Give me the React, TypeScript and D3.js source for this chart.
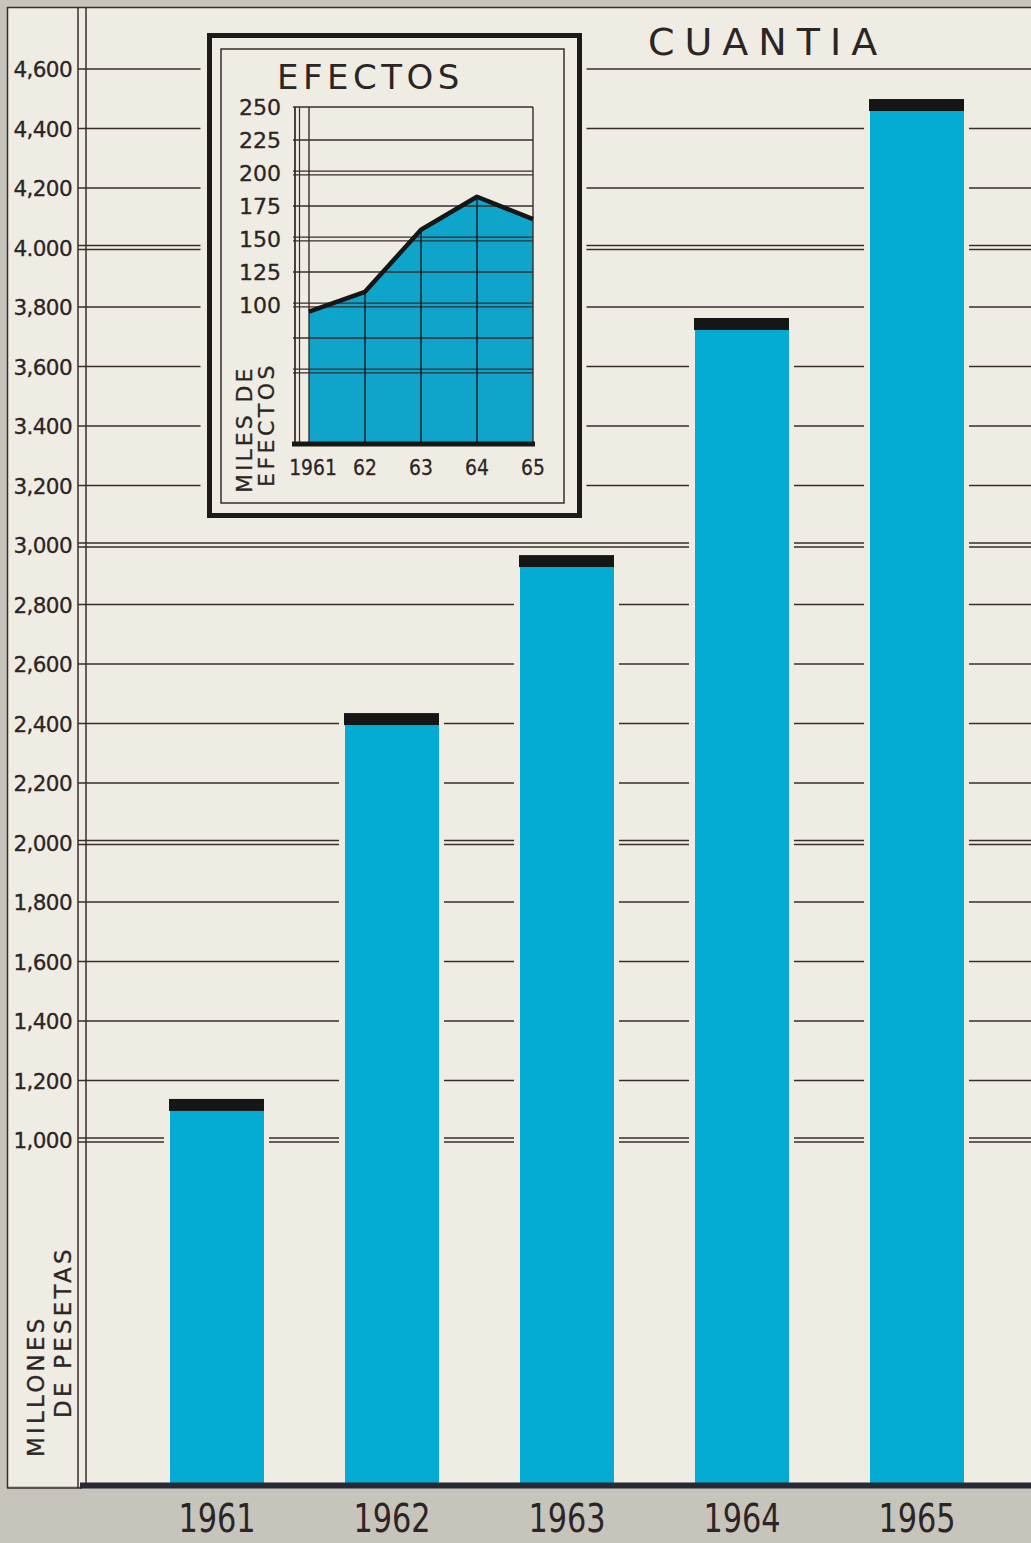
import React from "react";
import * as d3 from "d3";

// ---------- data ----------
const YEARS = ["1961", "1962", "1963", "1964", "1965"];
const CUANTIA = [1138, 2435, 2966, 3763, 4499]; // millones de pesetas
const Y_TICKS = [1000, 1200, 1400, 1600, 1800, 2000, 2200, 2400, 2600, 2800, 3000, 3200, 3400, 3600, 3800, 4000, 4200, 4400, 4600];
const Y_TICK_LABELS = ["1,000", "1,200", "1,400", "1,600", "1,800", "2,000", "2,200", "2,400", "2,600", "2,800", "3,000", "3,200", "3.400", "3,600", "3,800", "4.000", "4,200", "4,400", "4,600"];

const INSET_YEARS = ["1961", "62", "63", "64", "65"];
const EFECTOS = [95, 110, 157, 182, 165]; // miles de efectos
const INSET_TICKS = [100, 125, 150, 175, 200, 225, 250];
const INSET_GRID = [50, 75, 100, 125, 150, 175, 200, 225];

// ---------- style ----------
const W = 1031;
const H = 1543;
const PAPER = "#efece3";
const GRAY = "#c7c4bb";
const INK = "#3a2c2b";
const TEXT = "#2b2526";
const BLUE = "#03abd2";
const INSET_BLUE = "#0fa4ca";
const CAP = "#161616";
const FONT = "'DejaVu Sans', sans-serif";

export default function App() {
  // main scales
  const y = d3.scaleLinear().domain([0, 1000, 4600]).range([1483, 1140, 69]);
  const x = d3
    .scaleBand<string>()
    .domain(YEARS)
    .range([129.5, 1004.5])
    .paddingInner(0.463)
    .paddingOuter(0.2315);
  const bw = x.bandwidth();
  const capH = 12;

  // inset scales
  const ix = d3.scalePoint<string>().domain(INSET_YEARS).range([309, 533]);
  const iy = d3.scaleLinear().domain([0, 50, 250]).range([444, 371, 107]);
  const insetPts = INSET_YEARS.map((yr, i) => [ix(yr) as number, iy(EFECTOS[i])] as [number, number]);
  const areaPath = d3
    .area<[number, number]>()
    .x((d) => d[0])
    .y0(iy(0))
    .y1((d) => d[1])(insetPts) as string;
  const linePath = d3.line<[number, number]>().x((d) => d[0]).y((d) => d[1])(insetPts) as string;

  // inset box (exclusion for main gridlines)
  const insetBox = { x0: 209.5, x1: 579.5, y0: 35.5, y1: 515.5 };

  // compute gridline segments with gaps around bars & inset
  const gridSegments = (yy: number) => {
    const excl: [number, number][] = [];
    if (yy > insetBox.y0 - 4 && yy < insetBox.y1 + 4) excl.push([insetBox.x0 - 9, insetBox.x1 + 7]);
    YEARS.forEach((yr, i) => {
      const top = y(CUANTIA[i]);
      if (top < yy + 3) {
        const bx = x(yr) as number;
        excl.push([bx - 6, bx + bw + 5]);
      }
    });
    excl.sort((a, b) => a[0] - b[0]);
    const segs: [number, number][] = [];
    let cur = 78;
    excl.forEach(([a, b]) => {
      if (a > cur) segs.push([cur, a]);
      cur = Math.max(cur, b);
    });
    if (cur < W) segs.push([cur, W]);
    return segs;
  };

  return (
    <div style={{ position: "absolute", left: 0, top: 0, width: W, height: H }}>
      <svg width={W} height={H} viewBox={`0 0 ${W} ${H}`} style={{ display: "block" }}>
        <rect x={0} y={0} width={W} height={H} fill={GRAY} />
        <rect x={7} y={7} width={W - 7} height={1479} fill={PAPER} />
        {/* frame */}
        <line x1={7} x2={W} y1={7.5} y2={7.5} stroke={INK} strokeWidth={1.5} />
        <line x1={7.5} x2={7.5} y1={7} y2={1488} stroke={INK} strokeWidth={1.5} />
        <line x1={7} x2={82} y1={1488} y2={1488} stroke={INK} strokeWidth={1.5} />
        <line x1={78} x2={78} y1={7} y2={1488} stroke={INK} strokeWidth={1.5} />
        <line x1={86} x2={86} y1={7} y2={1486} stroke={INK} strokeWidth={1.5} />

        {/* gridlines */}
        {Y_TICKS.map((v) => {
          const yy = y(v);
          const dbl = v % 1000 === 0;
          const segs = gridSegments(yy);
          return (
            <g key={v}>
              {segs.map(([a, b], k) =>
                dbl ? (
                  <g key={k}>
                    <line x1={a} x2={b} y1={yy - 2} y2={yy - 2} stroke={INK} strokeWidth={1.3} />
                    <line x1={a} x2={b} y1={yy + 2} y2={yy + 2} stroke={INK} strokeWidth={1.3} />
                  </g>
                ) : (
                  <line key={k} x1={a} x2={b} y1={yy} y2={yy} stroke={INK} strokeWidth={1.4} />
                )
              )}
            </g>
          );
        })}

        {/* y tick labels */}
        {Y_TICKS.map((v, i) => (
          <text
            key={v}
            x={72}
            y={y(v) + 8}
            textAnchor="end"
            fontFamily={FONT}
            fontSize={21.5}
            fill={TEXT}
            letterSpacing={-0.6}
            stroke={TEXT}
            strokeWidth={0.3}
          >
            {Y_TICK_LABELS[i]}
          </text>
        ))}

        {/* axis title */}
        <text
          transform="translate(44,1457) rotate(-90)"
          fontFamily={FONT}
          fontSize={23}
          letterSpacing={3.2}
          fill={TEXT}
          stroke={TEXT}
          strokeWidth={0.3}
        >
          MILLONES
        </text>
        <text
          transform="translate(71,1418) rotate(-90)"
          fontFamily={FONT}
          fontSize={23}
          letterSpacing={3.2}
          fill={TEXT}
          stroke={TEXT}
          strokeWidth={0.3}
        >
          DE PESETAS
        </text>

        {/* bars */}
        {YEARS.map((yr, i) => {
          const bx = x(yr) as number;
          const top = y(CUANTIA[i]);
          return (
            <g key={yr}>
              <rect x={bx} y={top + capH} width={bw} height={y(0) - top - capH} fill={BLUE} />
              <rect x={bx - 1} y={top} width={bw + 1} height={capH} fill={CAP} />
            </g>
          );
        })}

        {/* baseline */}
        <line x1={80} x2={W} y1={1485.5} y2={1485.5} stroke="#252a35" strokeWidth={6} />

        {/* year labels */}
        {YEARS.map((yr) => (
          <text
            key={yr}
            transform={`translate(${(x(yr) as number) + bw / 2},1532) scale(0.82,1.04)`}
            textAnchor="middle"
            fontFamily={FONT}
            fontSize={37}
            fill={TEXT}
          >
            {yr}
          </text>
        ))}

        {/* title */}
        <text x={648} y={55} fontFamily={FONT} fontSize={38} letterSpacing={10} fill={TEXT}>
          CUANTIA
        </text>

        {/* ---------- inset ---------- */}
        <rect
          x={insetBox.x0}
          y={insetBox.y0}
          width={insetBox.x1 - insetBox.x0}
          height={insetBox.y1 - insetBox.y0}
          fill={PAPER}
          stroke="#1e1a1a"
          strokeWidth={5}
        />
        <rect x={221} y={49} width={343} height={454} fill="none" stroke={INK} strokeWidth={1.5} />
        <text x={277} y={89} fontFamily={FONT} fontSize={34} letterSpacing={4.5} fill={TEXT}>
          EFECTOS
        </text>

        {/* inset area */}
        <path d={areaPath} fill={INSET_BLUE} />

        {/* inset gridlines */}
        {INSET_GRID.map((v) => {
          const yy = iy(v);
          const dbl = v % 50 === 0;
          return dbl ? (
            <g key={v}>
              <line x1={293} x2={533} y1={yy - 1.8} y2={yy - 1.8} stroke={INK} strokeWidth={1.2} />
              <line x1={293} x2={533} y1={yy + 1.8} y2={yy + 1.8} stroke={INK} strokeWidth={1.2} />
            </g>
          ) : (
            <line key={v} x1={293} x2={533} y1={yy} y2={yy} stroke={INK} strokeWidth={1.3} />
          );
        })}
        {/* inset verticals within fill */}
        {INSET_YEARS.slice(1, -1).map((yr, i) => (
          <line
            key={yr}
            x1={ix(yr) as number}
            x2={ix(yr) as number}
            y1={iy(EFECTOS[i + 1])}
            y2={iy(0)}
            stroke="#15222a"
            strokeWidth={1.5}
          />
        ))}
        {/* inset frame */}
        <line x1={293} x2={533} y1={iy(250)} y2={iy(250)} stroke={INK} strokeWidth={1.4} />
        <line x1={533} x2={533} y1={iy(250)} y2={iy(0)} stroke={INK} strokeWidth={1.4} />
        <line x1={295} x2={295} y1={iy(250)} y2={iy(0)} stroke={INK} strokeWidth={1.8} />
        <line x1={299.5} x2={299.5} y1={iy(250)} y2={iy(0)} stroke={INK} strokeWidth={1.2} />
        <line x1={309} x2={309} y1={iy(250)} y2={iy(0)} stroke={INK} strokeWidth={1.4} />
        <path d={linePath} fill="none" stroke="#161616" strokeWidth={4.5} strokeLinejoin="round" />
        <line x1={292} x2={535} y1={iy(0)} y2={iy(0)} stroke="#161616" strokeWidth={5} />

        {/* inset tick labels */}
        {INSET_TICKS.map((v) => (
          <text
            key={v}
            x={281}
            y={iy(v) + 8}
            textAnchor="end"
            fontFamily={FONT}
            fontSize={22}
            fill={TEXT}
            stroke={TEXT}
            strokeWidth={0.3}
          >
            {v}
          </text>
        ))}
        {/* inset year labels */}
        {INSET_YEARS.map((yr, i) => (
          <text
            key={yr}
            transform={`translate(${i === 0 ? 313 : (ix(yr) as number)},475) scale(0.85,1)`}
            textAnchor="middle"
            fontFamily={FONT}
            fontSize={22}
            fill={TEXT}
            stroke={TEXT}
            strokeWidth={0.3}
          >
            {yr}
          </text>
        ))}
        {/* inset axis title */}
        <text
          transform="translate(252,493) rotate(-90)"
          fontFamily={FONT}
          fontSize={22}
          letterSpacing={3}
          fill={TEXT}
          stroke={TEXT}
          strokeWidth={0.3}
        >
          MILES DE
        </text>
        <text
          transform="translate(274,487) rotate(-90)"
          fontFamily={FONT}
          fontSize={22}
          letterSpacing={3.5}
          fill={TEXT}
          stroke={TEXT}
          strokeWidth={0.3}
        >
          EFECTOS
        </text>
      </svg>
    </div>
  );
}
